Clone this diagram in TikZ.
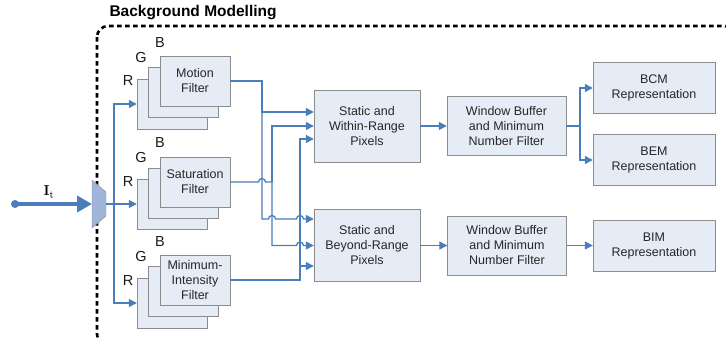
\documentclass[tikz,border=0pt]{standalone}
\usepackage[no-math]{fontspec}
\setmainfont{Liberation Sans}
\usetikzlibrary{arrows.meta}
\definecolor{boxfill}{HTML}{E6ECF6}
\definecolor{boxline}{HTML}{8C8C8C}
\definecolor{wire}{HTML}{4A7EBB}
\definecolor{muxfill}{HTML}{A0B5DA}
\begin{document}
\begin{tikzpicture}[
        x=1pt, y=-1pt,
        font=\fontsize{12.5}{15}\selectfont,
        line/.style={draw=wire, line width=1.3pt},
        flow/.style={line, -{Triangle[length=8pt,width=8pt]}},
        chan/.style={font=\fontsize{14.5}{17}\selectfont, text=black!90}
    ]
    \tikzset{
        filterbox/.style = {rectangle, draw=boxline, fill=boxfill, align=center, minimum width=70pt, minimum height=50pt, inner sep=0pt, text=black!85},
        stagebox/.style = {filterbox, minimum width=106pt, minimum height=72pt},
        bufbox/.style = {filterbox, minimum width=119pt, minimum height=59pt},
        repbox/.style = {filterbox, minimum width=122pt, minimum height=51pt},
    }
    \useasboundingbox (0,0) rectangle (726,338);
    \clip (0,0) rectangle (726,338);
    % background modelling frame
    \draw[line width=2.6pt, dash pattern=on 4.5pt off 3.5pt, rounded corners=11pt] (97,26) rectangle (735,345);
    \node[anchor=west, font=\fontsize{15.5}{18}\selectfont\bfseries] (title) at (106,13) {Background Modelling};
    % input and splitter
    \coordinate (src) at (15,204);
    \coordinate (muxin) at (92,204);
    \coordinate (muxout) at (106,204);
    \coordinate (fan) at (114,204);
    \fill[wire] (src) circle[radius=4pt];
    \draw[wire, line width=3.5pt, -{Triangle[length=15pt,width=16pt]}] (src) -- (muxin);
    \node (it) at (49,192) {\fontsize{15}{17}\selectfont$\mathbf{I}_{\mathrm{t}}$};
    \draw[draw=boxline, fill=muxfill] (92,180) -- (106,192) -- (106,216) -- (92,228) -- cycle;
    % colour channel filters
    \node[filterbox] (motR) at (172,104) {};
    \node[filterbox] (motG) at (183.5,92.5) {};
    \node[filterbox] (motB) at (195,81) {Motion\\Filter};
    \node[filterbox] (satR) at (172,204) {};
    \node[filterbox] (satG) at (183.5,193) {};
    \node[filterbox] (satB) at (195,182) {Saturation\\Filter};
    \node[filterbox] (minR) at (172,303) {};
    \node[filterbox] (minG) at (183.5,291.5) {};
    \node[filterbox] (minB) at (195,280) {Minimum-\\Intensity\\Filter};
    \node[chan] (motRl) at (128,81) {R};
    \node[chan] (motGl) at (141,58) {G};
    \node[chan] (motBl) at (160,43) {B};
    \node[chan] (satRl) at (128,182) {R};
    \node[chan] (satGl) at (141,158) {G};
    \node[chan] (satBl) at (160,143) {B};
    \node[chan] (minRl) at (128,281) {R};
    \node[chan] (minGl) at (141,257) {G};
    \node[chan] (minBl) at (160,242) {B};
    % pixel classes, buffers and outputs
    \node[stagebox] (within) at (367,126) {Static and\\Within-Range\\Pixels};
    \node[stagebox] (beyond) at (367,245.5) {Static and\\Beyond-Range\\Pixels};
    \node[bufbox] (wbuf1) at (506.5,126) {Window Buffer\\and Minimum\\Number Filter};
    \node[bufbox] (wbuf2) at (507,245.5) {Window Buffer\\and Minimum\\Number Filter};
    \node[repbox] (bcm) at (654,88) {BCM\\Representation};
    \node[repbox] (bem) at (654,160) {BEM\\Representation};
    \node[repbox] (bim) at (654,245.5) {BIM\\Representation};
    % wiring
    \draw[line] (muxout) -- (fan);
    \draw[flow] (fan) -- (satR.west);
    \draw[flow] (fan) |- (motR.west);
    \draw[flow] (fan) |- (minR.west);
    \coordinate (mbus) at (262,112);
    \coordinate (sbus) at (272,182);
    \coordinate (ibus) at (300,266);
    \draw[flow] (motB.east) -| (mbus) -- ([yshift=14pt]within.west);
    \draw[flow] (mbus) -- (262,219) -- (268.5,219) arc[start angle=180, end angle=0, radius=3.5pt]
        -- (296.5,219) arc[start angle=180, end angle=0, radius=3.5pt] -- ([yshift=26.5pt]beyond.west);
    \draw[line] (satB.east) -- (258.5,182) arc[start angle=180, end angle=0, radius=3.5pt] -- (sbus);
    \draw[flow] (sbus) |- (within.west);
    \draw[flow] (sbus) -- (272,245.5) -- (296.5,245.5) arc[start angle=180, end angle=0, radius=3.5pt] -- (beyond.west);
    \draw[flow] (minB.east) -| (ibus) -- ([yshift=-20.5pt]beyond.west);
    \draw[flow] (ibus) |- ([yshift=-13pt]within.west);
    \draw[flow] (within) -- (wbuf1);
    \draw[flow] (beyond) -- (wbuf2);
    \coordinate (fork) at (580,126);
    \draw[line] (wbuf1.east) -- (fork);
    \draw[flow] (fork) |- (bcm.west);
    \draw[flow] (fork) |- (bem.west);
    \draw[flow] (wbuf2) -- (bim);
\end{tikzpicture}
\end{document}
